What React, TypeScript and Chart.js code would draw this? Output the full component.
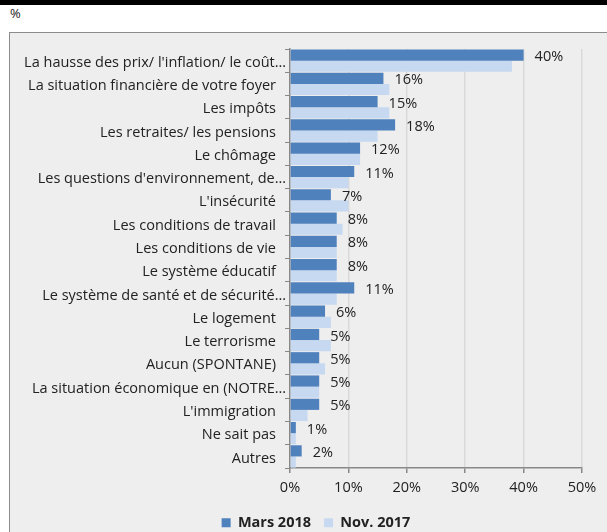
import { useEffect, useRef } from "react";
import { Chart, registerables } from "chart.js";

Chart.register(...registerables);

const categories = [
  "La hausse des prix/ l'inflation/ le coût…",
  "La situation financière de votre foyer",
  "Les impôts",
  "Les retraites/ les pensions",
  "Le chômage",
  "Les questions d'environnement, de…",
  "L'insécurité",
  "Les conditions de travail",
  "Les conditions de vie",
  "Le système éducatif",
  "Le système de santé et de sécurité…",
  "Le logement",
  "Le terrorisme",
  "Aucun (SPONTANE)",
  "La situation économique en (NOTRE…",
  "L'immigration",
  "Ne sait pas",
  "Autres",
];

const mars2018 = [40, 16, 15, 18, 12, 11, 7, 8, 8, 8, 11, 6, 5, 5, 5, 5, 1, 2];
const nov2017 = [38, 17, 17, 15, 12, 10, 10, 9, 8, 8, 8, 7, 7, 6, 5, 3, 1, 1];
const xTicks = [0, 10, 20, 30, 40, 50];

const FONT = "'Open Sans', Lato, sans-serif";
const TEXT = "#222222";
const FS = 14.5;

const valueLabels = {
  id: "valueLabels",
  afterLayout(chart: any) {
    if (chart.legend) {
      chart.legend.left += 20;
      chart.legend.right += 20;
    }
  },
  afterDatasetsDraw(chart: any) {
    const meta = chart.getDatasetMeta(0);
    const ctx = chart.ctx;
    ctx.save();
    ctx.font = `${FS}px ${FONT}`;
    ctx.fillStyle = TEXT;
    ctx.textAlign = "left";
    ctx.textBaseline = "middle";
    meta.data.forEach((el: any, i: number) => {
      ctx.fillText(`${mars2018[i]}%`, el.x + 11, el.y + 2);
    });
    // category labels (Excel-like: truncated labels overflow a little to the right)
    const y = chart.scales.y;
    ctx.textAlign = "right";
    categories.forEach((label, i) => {
      const py = y.getPixelForTick(i) + 2;
      const right = label.endsWith("…") ? y.right - 4 : y.right - 14;
      ctx.fillText(label, right, py);
    });
    ctx.restore();
  },
};

export default function App() {
  const ref = useRef<HTMLCanvasElement>(null);
  useEffect(() => {
    document.body.style.margin = "0";
    const chart = new Chart(ref.current!, {
      type: "bar",
      data: {
        labels: categories,
        datasets: [
          {
            label: "Mars 2018",
            data: mars2018,
            backgroundColor: "#4f81bd",
            borderWidth: 0,
            categoryPercentage: 0.96,
            barPercentage: 1,
          },
          {
            label: "Nov. 2017",
            data: nov2017,
            backgroundColor: "#c6d9f1",
            borderWidth: 0,
            categoryPercentage: 0.96,
            barPercentage: 1,
          },
        ],
      },
      options: {
        indexAxis: "y",
        responsive: false,
        animation: false,
        devicePixelRatio: 1,
        layout: { padding: { top: 16, right: 25, left: 0, bottom: 0 } },
        scales: {
          x: {
            min: 0,
            max: 50,
            afterBuildTicks: (s: any) => {
              s.ticks = xTicks.map((v) => ({ value: v }));
            },
            ticks: {
              callback: (v: any) => `${v}%`,
              color: TEXT,
              font: { family: FONT, size: FS },
              padding: 6,
            },
            grid: {
              color: "#d9d9d9",
              lineWidth: 1.5,
              tickColor: "#888888",
              tickLength: 5,
            },
            border: { color: "#888888", width: 1.5 },
          },
          y: {
            afterFit: (s: any) => {
              s.width = 280;
            },
            ticks: {
              display: false,
              autoSkip: false,
            },
            grid: {
              drawOnChartArea: false,
              color: "#888888",
              tickLength: 5,
              offset: true,
            },
            border: { color: "#888888", width: 1.5 },
          },
        },
        plugins: {
          legend: {
            position: "bottom",
            labels: {
              boxWidth: 9,
              boxHeight: 9,
              padding: 13,
              color: TEXT,
              font: { family: FONT, size: FS, weight: "bold" },
            },
          },
          tooltip: { enabled: false },
        },
      } as any,
      plugins: [valueLabels],
    });
    return () => chart.destroy();
  }, []);

  return (
    <div
      style={{
        position: "relative",
        width: 607,
        height: 532,
        overflow: "hidden",
        background: "#ffffff",
        fontFamily: FONT,
      }}
    >
      <div style={{ position: "absolute", left: 0, top: 0, width: 607, height: 5, background: "#000" }} />
      <div style={{ position: "absolute", left: 10, top: 4, fontSize: 13, color: TEXT }}>%</div>
      <div
        style={{
          position: "absolute",
          left: 9,
          top: 32,
          width: 620,
          height: 520,
          border: "1px solid #8c8c8c",
          background: "#eeeeee",
        }}
      />
      <canvas
        ref={ref}
        width={597}
        height={507}
        style={{ position: "absolute", left: 10, top: 33, width: 597, height: 507 }}
      />
    </div>
  );
}
